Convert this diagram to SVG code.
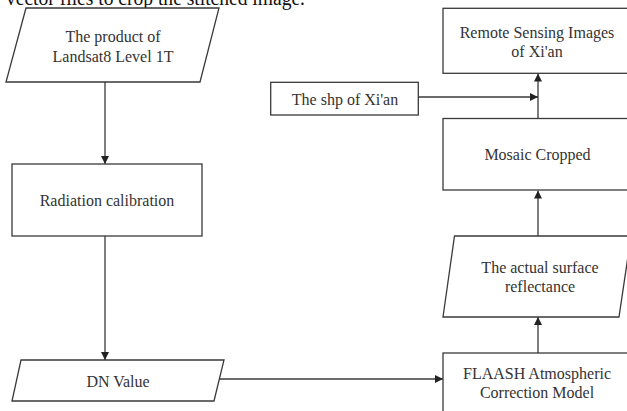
<svg xmlns="http://www.w3.org/2000/svg" width="627" height="411" viewBox="0 0 627 411">
<defs>
<style>
.n{fill:#fff;stroke:#3a3a3a;stroke-width:1.3}
.t{font-family:"Liberation Serif","Times New Roman",serif;font-size:16px;fill:#333;text-anchor:middle}
.c{fill:none;stroke:#3a3a3a;stroke-width:1.3}
</style>
<marker id="ah" viewBox="0 0 10 10" refX="10" refY="5" markerWidth="8" markerHeight="8" markerUnits="userSpaceOnUse" orient="auto">
<path d="M0,0 L10,5 L0,10 Z" fill="#222"/>
</marker>
</defs>
<rect width="627" height="411" fill="#fff"/>
<text x="6" y="5" font-family="Liberation Serif,serif" font-size="20" fill="#111" textLength="299" lengthAdjust="spacingAndGlyphs">vector files to crop the stitched image.</text>
<g id="connectors">
<line class="c" x1="105" y1="82" x2="105" y2="164" marker-end="url(#ah)"/>
<line class="c" x1="105" y1="236" x2="105" y2="360" marker-end="url(#ah)"/>
<line class="c" x1="220" y1="379" x2="443" y2="379" marker-end="url(#ah)"/>
<line class="c" x1="538" y1="353" x2="538" y2="317" marker-end="url(#ah)"/>
<line class="c" x1="538" y1="236" x2="538" y2="190.5" marker-end="url(#ah)"/>
<line class="c" x1="538" y1="118.5" x2="538" y2="73.5" marker-end="url(#ah)"/>
<line class="c" x1="418.3" y1="97" x2="538" y2="97" marker-end="url(#ah)"/>
</g>
<g id="product">
<polygon class="n" points="26,8 219,8 200,82 6,82"/>
<text class="t" x="113" y="42">The product of</text>
<text class="t" x="113" y="62">Landsat8 Level 1T</text>
</g>
<g id="radiation">
<rect class="n" x="12" y="164" width="190" height="72"/>
<text class="t" x="107" y="206">Radiation calibration</text>
</g>
<g id="dn">
<polygon class="n" points="21,360 224,360 214,401 12,401"/>
<text class="t" x="118" y="387">DN Value</text>
</g>
<g id="flaash">
<rect class="n" x="443" y="353" width="190" height="70"/>
<text class="t" x="537" y="379">FLAASH Atmospheric</text>
<text class="t" x="537" y="398">Correction Model</text>
</g>
<g id="reflectance">
<polygon class="n" points="454.5,236 631,236 619,317 443,317"/>
<text class="t" x="540" y="273">The actual surface</text>
<text class="t" x="540" y="292">reflectance</text>
</g>
<g id="mosaic">
<rect class="n" x="443" y="118.5" width="190" height="71.5"/>
<text class="t" x="537.5" y="160">Mosaic Cropped</text>
</g>
<g id="shp">
<rect class="n" x="270.7" y="82.3" width="147.6" height="32.7"/>
<text class="t" x="345" y="105">The shp of Xi'an</text>
</g>
<g id="remote">
<rect class="n" x="443" y="8.3" width="190" height="65"/>
<text class="t" x="537" y="38">Remote Sensing Images</text>
<text class="t" x="537" y="57">of Xi'an</text>
</g>
</svg>
